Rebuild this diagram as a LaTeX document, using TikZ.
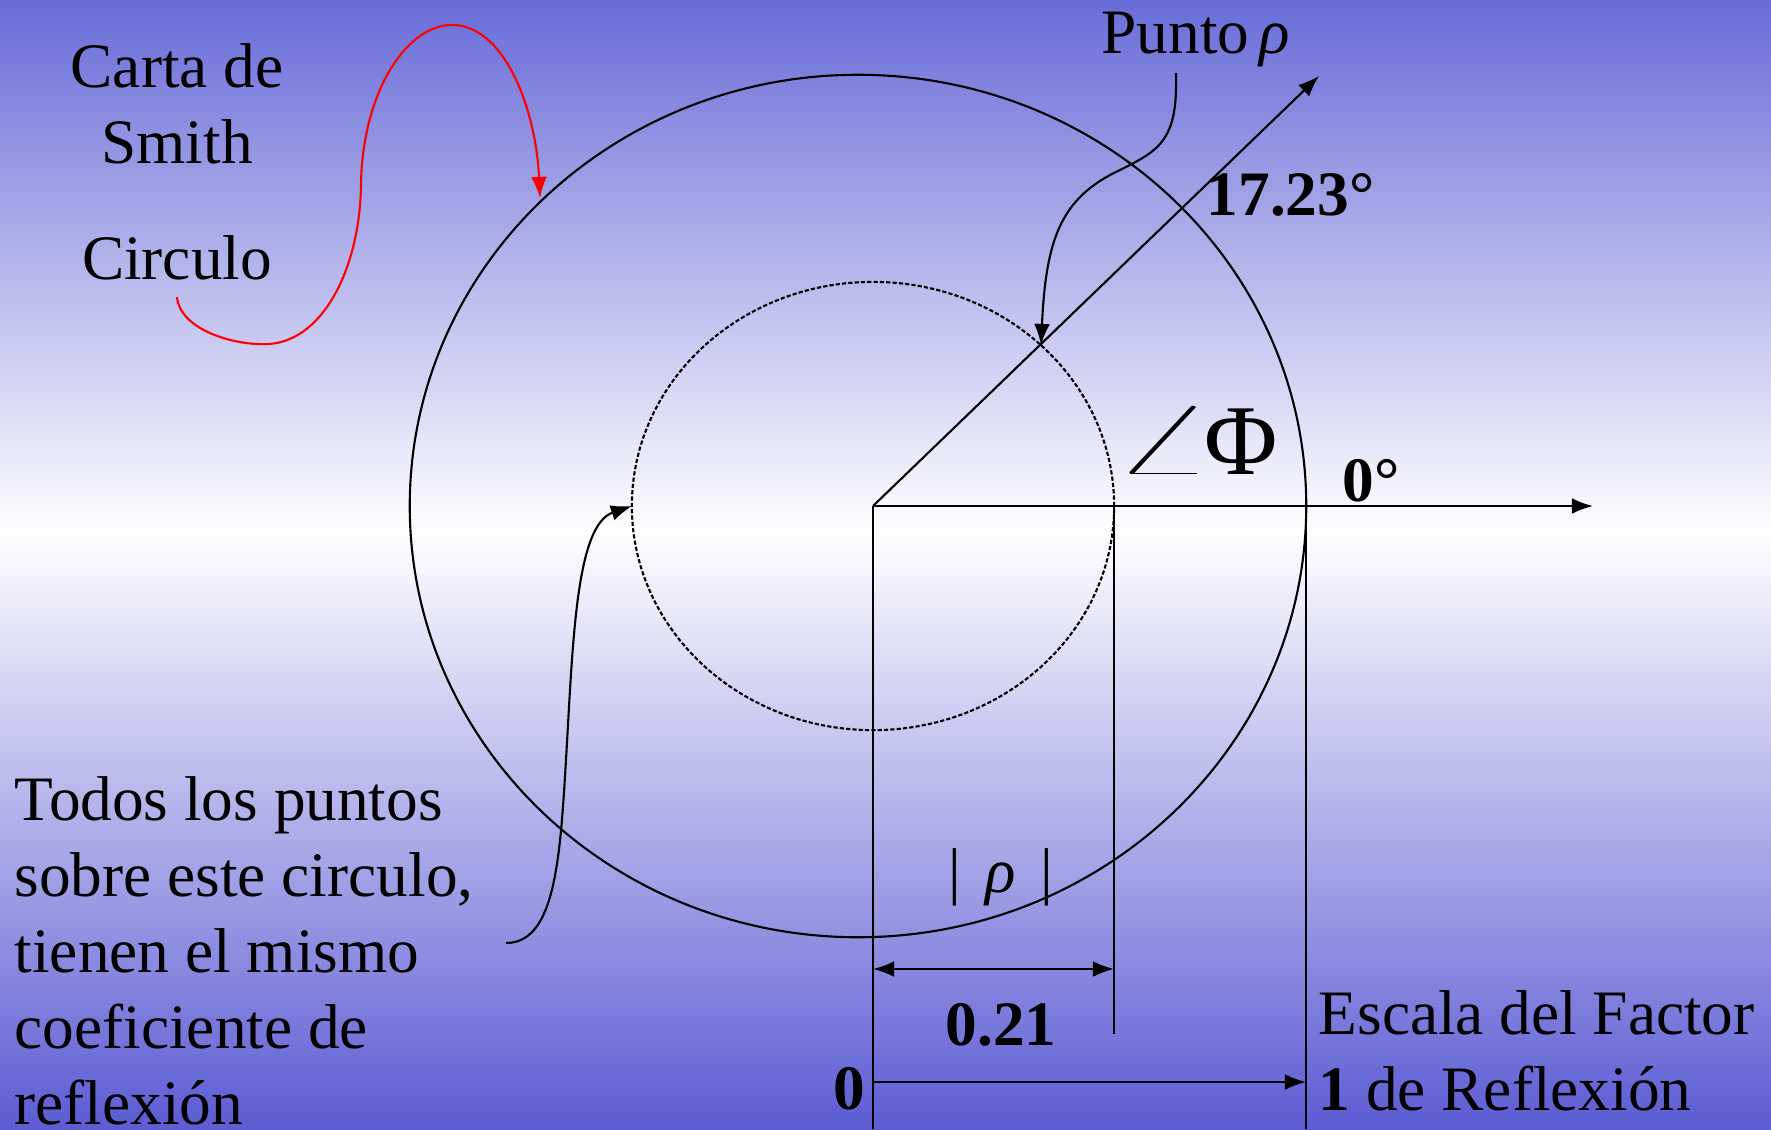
\documentclass[tikz,border=0pt]{standalone}
\usepackage{fontspec}
\setmainfont{Liberation Serif}
\usetikzlibrary{arrows.meta}

\begin{document}
\begin{tikzpicture}[x=0.01cm, y=-0.01cm, font=\fontsize{18}{21.6}\selectfont]
    % --- Estilos ---
    \tikzset{
        texto/.style={inner sep=0pt, anchor=base west},
        linea/.style={line width=0.6pt},
        flecha/.style={line width=0.6pt, -{Latex[length=6pt, width=4.5pt]}},
        dobleflecha/.style={line width=0.6pt, {Latex[length=6pt, width=4.5pt]}-{Latex[length=6pt, width=4.5pt]}},
        punteado/.style={line width=0.6pt, dash pattern=on 1.2pt off 0.6pt}
    }
    \definecolor{fondoarriba}{RGB}{105,108,216}
    \definecolor{fondoabajo}{RGB}{92,92,212}

    % --- Fondo degradado ---
    \useasboundingbox (0,0) rectangle (1771,1129);
    \shade[top color=fondoarriba, bottom color=white] (0,0) rectangle (1771,532);
    \shade[top color=white, bottom color=fondoabajo] (0,531) rectangle (1771,1129);

    % --- Circulos ---
    \coordinate (O) at (873,506);
    \coordinate (C) at (858,506);
    \draw[linea] (C) ellipse [x radius=4.48cm, y radius=4.31cm];
    \draw[punteado] (O) ellipse [x radius=2.41cm, y radius=2.24cm];

    % --- Ejes ---
    \coordinate (eje) at (1593,506);
    \coordinate (diag) at (1319,76);
    \coordinate (P) at (1041,345);
    \draw[flecha] (O) -- (eje);
    \draw[flecha] (O) -- (diag);

    % --- Escala de reflexion ---
    \coordinate (cero) at (873,1129);
    \coordinate (rhotop) at (1114,506);
    \coordinate (rhobot) at (1114,1034);
    \coordinate (unotop) at (1306,506);
    \coordinate (unobot) at (1306,1129);
    \draw[linea] (O) -- (cero);
    \draw[linea] (rhotop) -- (rhobot);
    \draw[linea] (unotop) -- (unobot);
    \draw[dobleflecha] (873,969) coordinate (a1) -- (1114,969) coordinate (a2);
    \draw[flecha] (873,1082) coordinate (b1) -- (1306,1082) coordinate (b2);

    % --- Etiquetas ---
    \node[texto, anchor=north, align=center] (carta) at (177,43) {Carta de\\Smith};
    \node[texto, anchor=base] (circulo) at (177,279) {Circulo};
    \node[texto] (punto) at (1101,53) {Punto\,{\itshape ρ}};
    \node[texto, font=\fontsize{18}{21.6}\bfseries] (grados) at (1206,215) {17.23°};
    \node[texto, font=\fontsize{18}{21.6}\bfseries] (cerogr) at (1342,501) {0°};
    \node[texto, font=\fontsize{28.5}{32}\selectfont] (phi) at (1111,474)
        {\scalebox{1.82}[1.0]{$\angle$}\hspace{-3pt}Φ};
    \node[texto, anchor=base] (modrho) at (1001,892) {|\hspace{7pt}{\itshape ρ}\hspace{7pt}|};
    \node[texto, anchor=base, font=\fontsize{18}{21.6}\bfseries] (valor) at (1001,1045) {0.21};
    \node[texto, anchor=base east, font=\fontsize{18}{21.6}\bfseries] (cerolbl) at (866,1109) {0};
    \node[texto] (escala) at (1318,1034) {Escala del Factor};
    \node[texto] (reflexion) at (1318,1110) {\textbf{1} de Reflexión};
    \node[texto, anchor=north west, align=left] (todos) at (14,776)
        {Todos los puntos\\sobre este circulo,\\tienen el mismo\\coeficiente de\\reflexión};

    % --- Curvas de referencia ---
    \coordinate (inirojo) at (177,297);
    \coordinate (finrojo) at (540,198);
    \draw[linea, red, -{Latex[length=6pt, width=4.5pt]}] (inirojo)
        .. controls (180,330) and (235,346) .. (269,344)
        .. controls (325,340) and (360,265) .. (361,185)
        .. controls (362,95) and (405,25) .. (452,25)
        .. controls (505,25) and (536,110) .. (finrojo);

    \coordinate (inipunto) at (1176,73);
    \draw[flecha] (inipunto)
        .. controls (1178,140) and (1160,150) .. (1120,170)
        .. controls (1060,198) and (1046,240) .. (P);

    \coordinate (initodos) at (506,943);
    \coordinate (izq) at (632,506);
    \draw[flecha] (initodos)
        .. controls (555,943) and (560,860) .. (566,760)
        .. controls (573,640) and (576,525) .. (izq);
\end{tikzpicture}
\end{document}
